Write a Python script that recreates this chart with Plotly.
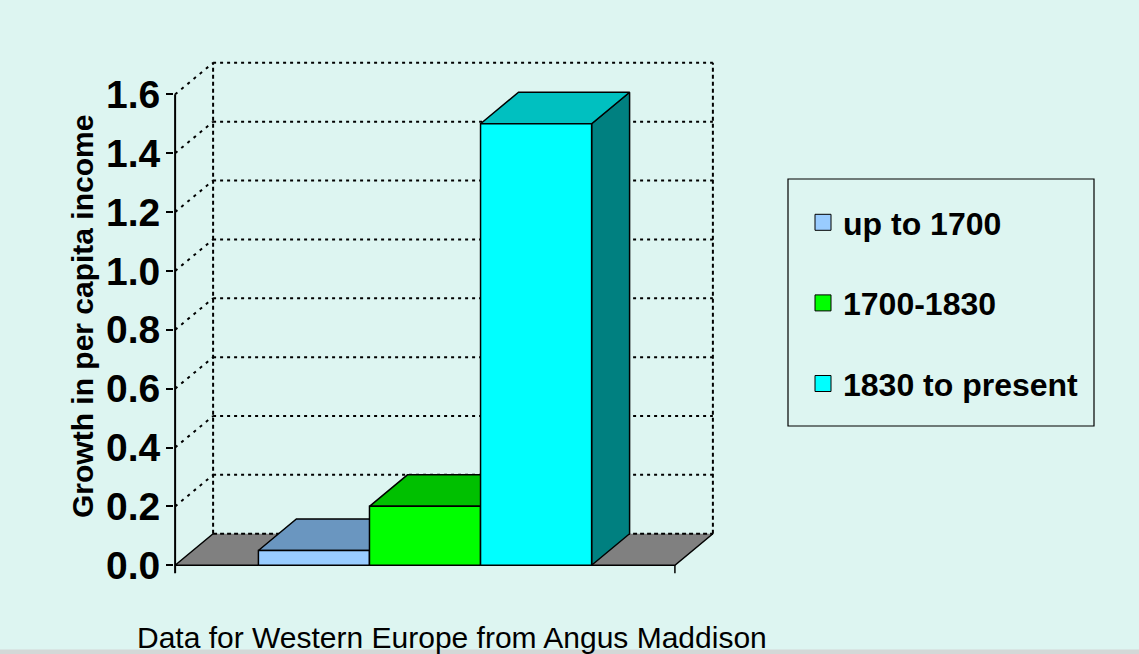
import plotly.graph_objects as go

# ---------------- data ----------------
categories = ["up to 1700", "1700-1830", "1830 to present"]
growth = [0.05, 0.2, 1.5]
tick_values = [0.0, 0.2, 0.4, 0.6, 0.8, 1.0, 1.2, 1.4, 1.6]
tick_labels = ["0.0", "0.2", "0.4", "0.6", "0.8", "1.0", "1.2", "1.4", "1.6"]
y_title = "Growth in per capita income"
source_note = "Data for Western Europe from Angus Maddison"

# ---------------- styles ----------------
front_colors = ["#99CCFF", "#00FF00", "#00FFFF"]
top_colors = ["#6A96C0", "#00C000", "#00C0C0"]
side_colors = ["#4D7399", "#008000", "#008080"]
BG = "#DDF5F1"
FLOOR = "#808080"
FONT = "Liberation Sans, Arial, sans-serif"

# oblique depth of the 3-D box (in axis units)
DX = 0.342
DY = 0.107
FL, FR = -1.25, 3.25          # floor front edge extents
BL, BR = FL + DX, FR + DX     # back wall extents
YTOP = tick_values[-1]
BAR_W = 1.0

fig = go.Figure()


def poly(xs, ys, fill, width=1.5, close=True, dash=None, color="black"):
    if close:
        xs = list(xs) + [xs[0]]
        ys = list(ys) + [ys[0]]
    tr = go.Scatter(
        x=xs, y=ys, mode="lines",
        line=dict(color=color, width=width, dash=dash),
        fill="toself" if fill else None,
        fillcolor=fill,
        hoverinfo="skip", showlegend=False,
    )
    fig.add_trace(tr)


# back-wall gridlines and side-wall diagonals
gx, gy, dxs, dys = [], [], [], []
for v in tick_values[1:]:
    gx += [BL, BR, None]
    gy += [v + DY, v + DY, None]
    dxs += [FL, BL, None]
    dys += [v, v + DY, None]
poly(gx, gy, None, width=2, close=False, dash="3px,4px")
poly(dxs, dys, None, width=2, close=False, dash="3px,5px")
# back wall vertical edges
poly([BL, BL, None, BR, BR], [DY, YTOP + DY, None, DY, YTOP + DY], None,
     width=2, close=False, dash="4px,3px")

# floor
poly([FL, FR, BR, BL], [0, 0, DY, DY], FLOOR, width=0)
poly([BL, FL, FR, BR], [DY, 0, 0, DY], None, width=1.5, close=False)
poly([BL, BR], [DY, DY], None, width=2, close=False, dash="4px,3px")

# y axis line + x axis end tick
poly([FL, FL], [-0.027, YTOP], None, width=2, close=False)
poly([FR, FR], [0, -0.027], None, width=1.5, close=False)

# bars (left to right so that nearer faces overlap correctly)
for i, v in enumerate(growth):
    x0, x1 = i - BAR_W / 2, i + BAR_W / 2
    poly([x1, x1 + DX, x1 + DX, x1], [0, DY, v + DY, v], side_colors[i])
    poly([x0, x1, x1 + DX, x0 + DX], [v, v, v + DY, v + DY], top_colors[i])
    poly([x0, x1, x1, x0], [0, 0, v, v], front_colors[i])

# legend entries
for i, name in enumerate(categories):
    fig.add_trace(go.Scatter(
        x=[None], y=[None], mode="markers", name=name,
        marker=dict(symbol="square", size=16, color=front_colors[i],
                    line=dict(color="black", width=1)),
        legendgroup=f"g{i}", showlegend=True,
    ))

L, R, T, B = 174, 423, 59, 77
W, H = 1139, 654
pw, ph = W - L - R, H - T - B


def px_x(p):
    return (p - L) / pw


def px_y(p):
    return (H - B - p) / ph


fig.add_annotation(
    text=y_title, textangle=-90, showarrow=False,
    xref="paper", yref="paper", x=px_x(82), y=px_y(317),
    xanchor="center", yanchor="middle",
    font=dict(family=FONT, size=30, color="black", weight="bold"),
)
fig.add_annotation(
    text=source_note, showarrow=False,
    xref="paper", yref="paper", x=px_x(452), y=px_y(637),
    xanchor="center", yanchor="middle",
    font=dict(family=FONT, size=30, color="black"),
)
# legend box
fig.add_shape(type="rect", xref="paper", yref="paper",
              x0=px_x(788), x1=px_x(1094), y0=px_y(426), y1=px_y(179),
              line=dict(color="black", width=1.2), fillcolor="rgba(0,0,0,0)")
# bottom border strip
fig.add_shape(type="rect", xref="paper", yref="paper",
              x0=px_x(0), x1=px_x(W), y0=px_y(H), y1=px_y(649.5),
              line=dict(width=0), fillcolor="#D4D8D7")

fig.update_layout(
    width=W, height=H,
    margin=dict(l=L, r=R, t=T, b=B, autoexpand=False),
    paper_bgcolor=BG, plot_bgcolor=BG,
    font=dict(family=FONT, color="black"),
    showlegend=True,
    legend=dict(
        x=px_x(803), y=px_y(195), xanchor="left", yanchor="top",
        bgcolor="rgba(0,0,0,0)", borderwidth=0,
        font=dict(family=FONT, size=32, color="black", weight="bold"),
        tracegroupgap=36, itemsizing="trace",
    ),
    xaxis=dict(range=[-1.26, 3.62], visible=False, fixedrange=True),
    yaxis=dict(
        range=[-0.04, 1.72], tickvals=tick_values, ticktext=tick_labels,
        ticks="outside", ticklen=7, tickwidth=2, tickcolor="black",
        showgrid=False, zeroline=False, showline=False,
        tickfont=dict(family=FONT, size=39, color="black", weight="bold"),
        ticklabelstandoff=-2, fixedrange=True,
    ),
)

fig.write_html("out.html",
               config={"displayModeBar": False, "staticPlot": True},
               post_script="document.body.style.margin='0px';"
                           "document.body.style.overflow='hidden';")
